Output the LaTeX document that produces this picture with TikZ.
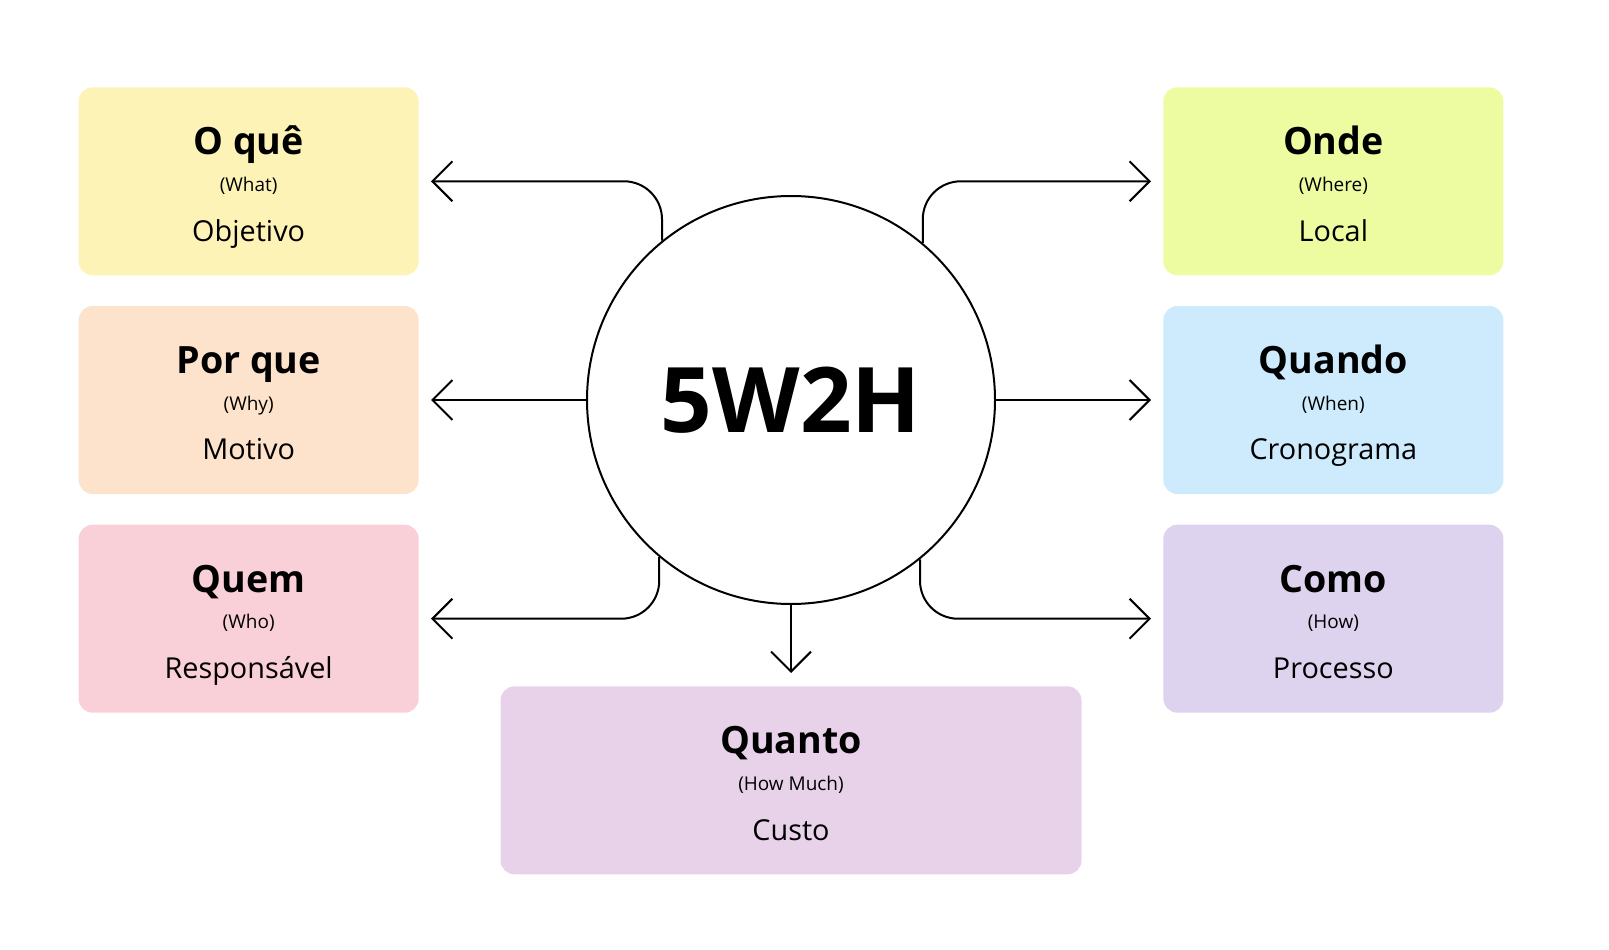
\documentclass[tikz,border=0pt]{standalone}
\usepackage{fontspec}
\setmainfont{Open Sans}
\usetikzlibrary{positioning, arrows.meta}

\definecolor{whatc}{HTML}{FEF3B7}
\definecolor{whyc}{HTML}{FDE3CB}
\definecolor{whoc}{HTML}{F9D0D7}
\definecolor{wherec}{HTML}{EDFCA1}
\definecolor{whenc}{HTML}{CDEBFC}
\definecolor{howc}{HTML}{DDD3EE}
\definecolor{muchc}{HTML}{E8D2EA}

\newcommand{\hdfont}{\rule{0pt}{23pt}\fontsize{21.4}{23.8}\bfseries\selectfont}
\newcommand{\enfont}{\fontsize{10.8}{23.8}\selectfont}
\newcommand{\ptfont}{\rule[-4pt]{0pt}{4pt}\fontsize{16.4}{23.8}\selectfont}

\begin{document}
\begin{tikzpicture}[
        card/.style={rounded corners=0.28cm, align=center, minimum width=6.8cm, minimum height=3.76cm, inner sep=0pt, font=\fontsize{17}{23.8}\selectfont},
        hub/.style={draw, circle, line width=0.04cm, minimum size=8.16cm, inner sep=0pt, font=\fontsize{51.5}{60}\bfseries\selectfont},
        link/.style={-{Straight Barb[length=0.4cm, width=0.8cm]}, line width=0.04cm, rounded corners=0.76cm, shorten >=0.24cm}
    ]

    \useasboundingbox (0,0) rectangle (32.18,-19.0);

    % Centre
    \node[hub] (hub) at (15.82,-8.0) {5W2H};

    % Left column
    \node[card, fill=whyc, left=3.34cm of hub] (porque) {\hdfont Por que\\[-3.1pt]\enfont (Why)\\[4.5pt]\ptfont Motivo};
    \node[card, fill=whatc, above=0.6cm of porque] (oque) {\hdfont O quê\\[-3.1pt]\enfont (What)\\[4.5pt]\ptfont Objetivo};
    \node[card, fill=whoc, below=0.6cm of porque] (quem) {\hdfont Quem\\[-3.1pt]\enfont (Who)\\[4.5pt]\ptfont Responsável};

    % Right column
    \node[card, fill=whenc, right=3.34cm of hub] (quando) {\hdfont Quando\\[-3.1pt]\enfont (When)\\[4.5pt]\ptfont Cronograma};
    \node[card, fill=wherec, above=0.6cm of quando] (onde) {\hdfont Onde\\[-3.1pt]\enfont (Where)\\[4.5pt]\ptfont Local};
    \node[card, fill=howc, below=0.6cm of quando] (como) {\hdfont Como\\[-3.1pt]\enfont (How)\\[4.5pt]\ptfont Processo};

    % Bottom
    \node[card, fill=muchc, minimum width=11.62cm, below=1.62cm of hub] (quanto) {\hdfont Quanto\\[-3.1pt]\enfont (How Much)\\[4.5pt]\ptfont Custo};

    % Edges hub -> cards
    \draw[link] (hub.129.6) |- (oque.east);
    \draw[link] (hub.west) -- (porque.east);
    \draw[link] (hub.230.4) |- (quem.east);
    \draw[link] (hub.50.4) |- (onde.west);
    \draw[link] (hub.east) -- (quando.west);
    \draw[link] (hub.309.6) |- (como.west);
    \draw[link, shorten >=0.26cm] (hub.south) -- (quanto.north);

\end{tikzpicture}
\end{document}
